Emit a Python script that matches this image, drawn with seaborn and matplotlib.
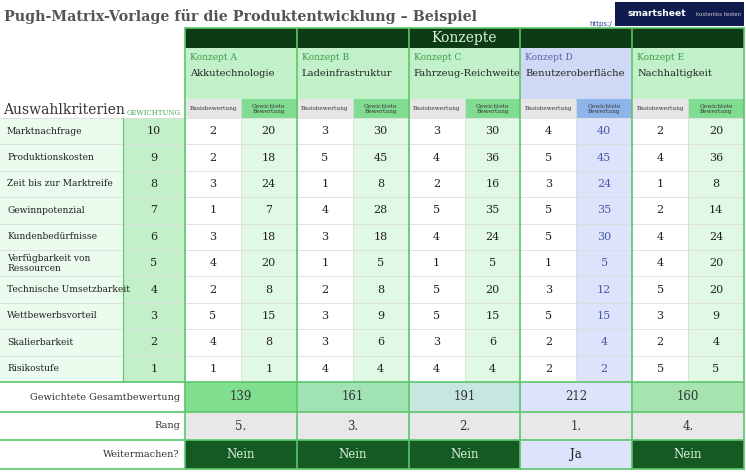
import matplotlib
matplotlib.use("Agg")
import matplotlib.pyplot as plt
from matplotlib.patches import Rectangle
import seaborn as sns

sns.set_theme(style="white")
plt.rcParams["font.family"] = "DejaVu Serif"

title = "Pugh-Matrix-Vorlage für die Produktentwicklung – Beispiel"
criteria = ["Marktnachfrage", "Produktionskosten", "Zeit bis zur Marktreife", "Gewinnpotenzial",
            "Kundenbedürfnisse", "Verfügbarkeit von\nRessourcen", "Technische Umsetzbarkeit",
            "Wettbewerbsvorteil", "Skalierbarkeit", "Risikostufe"]
weights = [10, 9, 8, 7, 6, 5, 4, 3, 2, 1]
concept_ids = ["Konzept A", "Konzept B", "Konzept C", "Konzept D", "Konzept E"]
concept_names = ["Akkutechnologie", "Ladeinfrastruktur", "Fahrzeug-Reichweite",
                 "Benutzeroberfläche", "Nachhaltigkeit"]
base_scores = [
    [2, 2, 3, 1, 3, 4, 2, 5, 4, 1],
    [3, 5, 1, 4, 3, 1, 2, 3, 3, 4],
    [3, 4, 2, 5, 4, 1, 5, 5, 3, 4],
    [4, 5, 3, 5, 5, 1, 3, 5, 2, 2],
    [2, 4, 1, 2, 4, 4, 5, 3, 2, 5],
]
weighted_scores = [
    [20, 18, 24, 7, 18, 20, 8, 15, 8, 1],
    [30, 45, 8, 28, 18, 5, 8, 9, 6, 4],
    [30, 36, 16, 35, 24, 5, 20, 15, 6, 4],
    [40, 45, 24, 35, 30, 5, 12, 15, 4, 2],
    [20, 36, 8, 14, 24, 20, 20, 9, 4, 5],
]
totals = [139, 161, 191, 212, 160]
ranks = ["5.", "3.", "2.", "1.", "4."]
proceed = ["Nein", "Nein", "Nein", "Ja", "Nein"]

total_colors = ["#80e08f", "#a0e2b2", "#c6e6df", "#dde3fb", "#a5e4b1"]
GREEN_LINE = "#5cc66a"
DARK = "#0d3b14"

fig = plt.figure(figsize=(7.46, 4.72), dpi=100)
ax = fig.add_axes([0, 0, 1, 1])
ax.set_xlim(0, 746)
ax.set_ylim(472, 0)
ax.axis("off")


def cell(x, y, w, h, fc, ec="none", lw=0.0):
    ax.add_patch(Rectangle((x, y), w, h, facecolor=fc, edgecolor=ec, linewidth=lw))


ax.text(4, 16, title, fontsize=10.3, fontweight="bold", color="#555555", va="center")
cell(615, 2, 129, 24, "#0f1a4f")
ax.text(628, 14, "smartsheet", fontsize=6.6, color="white", fontweight="bold",
        va="center", ha="left", family="DejaVu Sans")
ax.text(741, 14, "kostenlos testen", fontsize=4, color="#cccccc", va="center", ha="right",
        family="DejaVu Sans")
ax.text(612, 24, "https:/", fontsize=5, color="#2a3a9a", ha="right", va="center", family="DejaVu Sans")

x0, cw = 185, 111.8
row_top, rh = 118, 26.4
y_tot, y_rank, y_go, y_end = 382, 412, 440, 469

# header band
cell(x0, 28, 559, 20, DARK)
ax.text(x0 + 559 / 2, 38, "Konzepte", fontsize=10, color="#d9f2dc", ha="center", va="center")

ax.text(3, 110, "Auswahlkriterien", fontsize=10, color="#333333", va="center")
ax.text(154, 113, "GEWICHTUNG", fontsize=5, color="#4aa85a", ha="center", va="center")

for c in range(5):
    x = x0 + c * cw
    half = cw / 2
    is_d = c == 3
    cell(x, 48, cw, 51, "#cfd8f5" if is_d else "#c2f0c8")
    ax.text(x + 5, 58, concept_ids[c], fontsize=6.5, color="#5560a8" if is_d else "#3a9a4a", va="center")
    ax.text(x + 5, 74, concept_names[c], fontsize=7.1, color="#222222", va="center")
    cell(x, 99, half, 19, "#e6e6e6")
    cell(x + half, 99, half, 19, "#8fb4ea" if is_d else "#80dc90")
    ax.text(x + half / 2, 108.5, "Basisbewertung", fontsize=4.2, color="#333333", ha="center", va="center")
    ax.text(x + half * 1.5, 108.5, "Gewichtete\nBewertung", fontsize=4.2, color="#333333",
            ha="center", va="center", linespacing=1.0)
    for r in range(10):
        y = row_top + r * rh
        cell(x, y, half, rh, "white")
        cell(x + half, y, half, rh, "#dde3fb" if is_d else "#e0f8e4")
        ax.text(x + half / 2, y + rh / 2, str(base_scores[c][r]), fontsize=8, color="#222222",
                ha="center", va="center")
        ax.text(x + half * 1.5, y + rh / 2, str(weighted_scores[c][r]), fontsize=8,
                color="#4a5aa8" if is_d else "#222222", ha="center", va="center")
    ax.plot([x + half, x + half], [99, y_tot], color="#dddddd", lw=0.6)
    cell(x, y_tot, cw, y_rank - y_tot, total_colors[c])
    ax.text(x + half, (y_tot + y_rank) / 2, str(totals[c]), fontsize=8.5, color="#333333",
            ha="center", va="center")
    cell(x, y_rank, cw, y_go - y_rank, "#e8e8e8")
    ax.text(x + half, (y_rank + y_go) / 2, ranks[c], fontsize=8.5, color="#333333",
            ha="center", va="center")
    go = proceed[c] == "Ja"
    cell(x, y_go, cw, y_end - y_go, "#dde3fb" if go else "#145a22")
    ax.text(x + half, (y_go + y_end) / 2, proceed[c], fontsize=8.5,
            color="#222222" if go else "#d9f2dc", ha="center", va="center")

for r in range(10):
    y = row_top + r * rh
    cell(0, y, 123, rh, "#ebfbee")
    cell(123, y, 62, rh, "#c3efc9")
    ax.text(7, y + rh / 2, criteria[r], fontsize=6.6, color="#222222", va="center", linespacing=1.1)
    ax.text(154, y + rh / 2, str(weights[r]), fontsize=8, color="#222222", ha="center", va="center")
    ax.plot([0, 744], [y, y], color="#dddddd", lw=0.6)

labels_bottom = [("Gewichtete Gesamtbewertung", y_tot, y_rank), ("Rang", y_rank, y_go),
                 ("Weitermachen?", y_go, y_end)]
for text, ya, yb in labels_bottom:
    ax.text(180, (ya + yb) / 2, text, fontsize=7, color="#333333", ha="right", va="center")

# green grid lines
for c in range(6):
    x = x0 + c * cw
    ax.plot([x, x], [28, y_end], color=GREEN_LINE, lw=1.2)
ax.plot([123, 123], [118, 382], color=GREEN_LINE, lw=0.8)
for y in [y_tot, y_rank, y_go, y_end]:
    ax.plot([0, 744], [y, y], color=GREEN_LINE, lw=1.2)
ax.plot([x0, 744], [28, 28], color=GREEN_LINE, lw=1.2)

fig.savefig("out.png", dpi=100)
plt.close()
